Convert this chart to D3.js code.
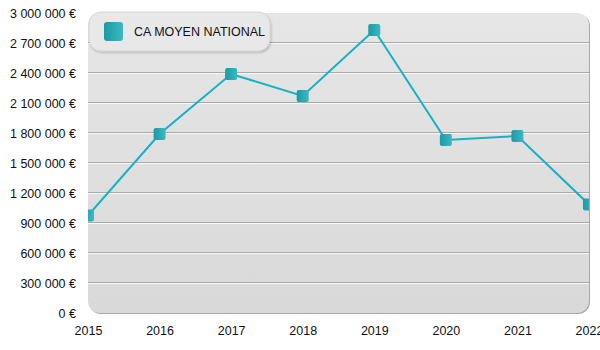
<!DOCTYPE html>
<html>
<head>
<meta charset="utf-8">
<script src="https://cdn.jsdelivr.net/npm/d3@7"></script>
<style>
  html, body { margin: 0; padding: 0; background: #fff; }
  svg { display: block; font-family: Arial, "Liberation Sans", sans-serif; }
</style>
</head>
<body>
<svg id="chart" width="600" height="350"></svg>
<script>
// Chiffre d'affaires moyen national par année
const years = [2015, 2016, 2017, 2018, 2019, 2020, 2021, 2022];
const caMoyen = [975000, 1790000, 2390000, 2170000, 2830000, 1730000, 1770000, 1085000];
const yTicks = [0, 300000, 600000, 900000, 1200000, 1500000, 1800000, 2100000, 2400000, 2700000, 3000000];
const seriesName = "CA MOYEN NATIONAL";

const svg = d3.select("#chart");
const m = { left: 88, right: 11, top: 13, bottom: 37 };
const W = 600, H = 350;
const iw = W - m.left - m.right, ih = H - m.top - m.bottom;

const x = d3.scaleLinear().domain([2015, 2022]).range([m.left, m.left + iw]);
const y = d3.scaleLinear().domain([0, 3000000]).range([m.top + ih, m.top]);

const fmt = v => d3.format(",")(v).replace(/,/g, " ") + " €";

const defs = svg.append("defs");
const bg = defs.append("linearGradient").attr("id", "bg").attr("x1", 0).attr("y1", 0).attr("x2", 0).attr("y2", 1);
bg.append("stop").attr("offset", "0%").attr("stop-color", "#e6e6e6");
bg.append("stop").attr("offset", "100%").attr("stop-color", "#d9d9d9");

const mk = defs.append("linearGradient").attr("id", "mk").attr("x1", 0).attr("y1", 0).attr("x2", 1).attr("y2", 0);
mk.append("stop").attr("offset", "0%").attr("stop-color", "#1b9aa3");
mk.append("stop").attr("offset", "100%").attr("stop-color", "#3cb9c2");

const sh = defs.append("filter").attr("id", "sh").attr("x", "-10%").attr("y", "-20%").attr("width", "130%").attr("height", "160%");
sh.append("feDropShadow").attr("dx", 1).attr("dy", 1.5).attr("stdDeviation", 1).attr("flood-color", "#000").attr("flood-opacity", 0.2);

defs.append("clipPath").attr("id", "plotclip")
  .append("rect").attr("x", m.left).attr("y", m.top).attr("width", iw).attr("height", ih).attr("rx", 12);

// Plot background with darker right/bottom edge
svg.append("rect")
  .attr("x", m.left + 1).attr("y", m.top + 1).attr("width", iw).attr("height", ih)
  .attr("rx", 12).attr("fill", "#a8a8a8");
svg.append("rect")
  .attr("x", m.left).attr("y", m.top).attr("width", iw).attr("height", ih)
  .attr("rx", 12).attr("fill", "url(#bg)");

// Gridlines: grey line with white highlight below
const grid = svg.append("g").attr("clip-path", "url(#plotclip)");
yTicks.filter(v => v > 0 && v < 3000000).forEach(v => {
  grid.append("line").attr("x1", m.left).attr("x2", m.left + iw)
    .attr("y1", y(v) - 0.5).attr("y2", y(v) - 0.5).attr("stroke", "#a9a9a9").attr("stroke-width", 1);
  grid.append("line").attr("x1", m.left).attr("x2", m.left + iw)
    .attr("y1", y(v) + 0.5).attr("y2", y(v) + 0.5).attr("stroke", "#f8f8f8").attr("stroke-width", 1);
});

// Axes
const yAxis = d3.axisLeft(y).tickValues(yTicks).tickFormat(fmt).tickSize(0).tickPadding(12);
const gy = svg.append("g").attr("transform", `translate(${m.left},0)`).call(yAxis);
gy.select(".domain").remove();
gy.selectAll("text").attr("font-size", 12.5).attr("fill", "#111");

const xAxis = d3.axisBottom(x).tickValues(years).tickFormat(d3.format("d")).tickSize(0).tickPadding(13);
const gx = svg.append("g").attr("transform", `translate(0,${m.top + ih})`).call(xAxis);
gx.select(".domain").remove();
gx.selectAll("text").attr("font-size", 12.5).attr("fill", "#111");

// Series line and markers
const data = years.map((yr, i) => ({ yr, v: caMoyen[i] }));
const plot = svg.append("g").attr("clip-path", "url(#plotclip)");
plot.append("path").datum(data)
  .attr("fill", "none").attr("stroke", "#14b2c4").attr("stroke-width", 2)
  .attr("d", d3.line().x(d => x(d.yr)).y(d => y(d.v)));
plot.selectAll("rect.pt").data(data).join("rect").attr("class", "pt")
  .attr("x", d => x(d.yr) - 6).attr("y", d => y(d.v) - 6)
  .attr("width", 12).attr("height", 12).attr("rx", 2)
  .attr("fill", "url(#mk)");

// Legend
const lg = svg.append("g");
lg.append("rect").attr("x", 89).attr("y", 12).attr("width", 181).attr("height", 39)
  .attr("rx", 12).attr("fill", "#e8e8e8").attr("stroke", "#d0d0d0").attr("stroke-width", 0.8)
  .attr("filter", "url(#sh)");
lg.append("rect").attr("x", 104).attr("y", 22).attr("width", 19).attr("height", 19)
  .attr("rx", 3).attr("fill", "url(#mk)");
lg.append("text").attr("x", 134).attr("y", 36).attr("font-size", 12.5).attr("fill", "#111").text(seriesName);
</script>
</body>
</html>
